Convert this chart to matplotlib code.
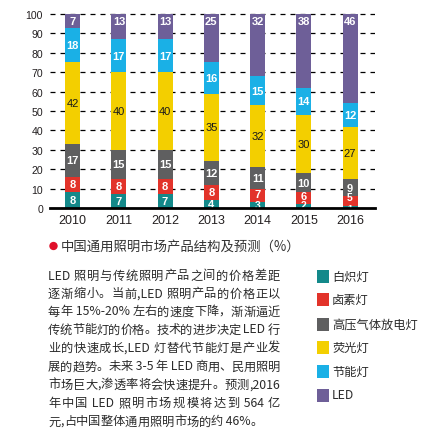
import re
import numpy as np
import matplotlib
matplotlib.use("Agg")
import matplotlib.pyplot as plt
from matplotlib.patches import Rectangle, Circle

# datos del grafico (%)
years = ['2010', '2011', '2012', '2013', '2014', '2015', '2016']
incandescent = [8, 7, 7, 4, 3, 2, 1]
halogen = [8, 8, 8, 8, 7, 6, 5]
hid = [17, 15, 15, 12, 11, 10, 9]
fluorescent = [42, 40, 40, 35, 32, 30, 27]
cfl = [18, 17, 17, 16, 15, 14, 12]
led = [7, 13, 13, 25, 32, 38, 46]

names = ['白炽灯', '卤素灯', '高压气体放电灯', '荧光灯', '节能灯', 'LED']
colors = ['#13898a', '#e2332a', '#5f5f60', '#f3cf00', '#1ab0e6', '#6e5f98']
yticks = [0, 10, 20, 30, 40, 50, 60, 70, 80, 90, 100]

title = '中国通用照明市场产品结构及预测（%）'
para = ['LED 照明与传统照明产品之间的价格差距',
        '逐渐缩小。当前,LED 照明产品的价格正以',
        '每年 15%-20% 左右的速度下降，渐渐逼近',
        '传统节能灯的价格。技术的进步决定 LED 行',
        '业的快速成长,LED 灯替代节能灯是产业发',
        '展的趋势。未来 3-5 年 LED 商用、民用照明',
        '市场巨大,渗透率将会快速提升。预测,2016',
        '年中国 LED 照明市场规模将达到 564 亿',
        '元,占中国整体通用照明市场的约 46%。']

W, H = 440, 435
fig = plt.figure(figsize=(W / 100, H / 100), dpi=100)
fig.patch.set_facecolor('white')

def fx(px):
    return px / W

def fy(py):
    return 1 - py / H

top_val = 100.4
ax = fig.add_axes([fx(50), fy(209), fx(375) - fx(50), (fy(14.2) - fy(209))])
x = np.arange(len(years))
series = [incandescent, halogen, hid, fluorescent, cfl, led]
bottom = np.zeros(len(years))
for i, s in enumerate(series):
    s = np.array(s, dtype=float)
    ax.bar(x, s, 0.325, bottom=bottom, color=colors[i], zorder=2)
    for j in range(len(years)):
        yc = bottom[j] + s[j] / 2
        fs = 8
        if i == 0:
            # los pequeños quedan medio tapados por el eje
            if s[j] <= 1:
                yc, fs = 0.0, 6.5
            else:
                yc = max(yc, 1.3)
                if s[j] < 4:
                    fs = 7.5
        elif i == 1:
            if s[j] < 6:
                yc, fs = bottom[j] + 4.6, 7.5
            else:
                yc = max(yc, bottom[j] + 4.2)
        elif i == 5:
            yc = 96.6
        if i == 3:
            ax.text(x[j], yc, str(int(s[j])), ha='center', va='center', color='#1a1a1a',
                    fontsize=fs, family='Liberation Sans', zorder=3)
        else:
            ax.text(x[j], yc, str(int(s[j])), ha='center', va='center', color='white',
                    fontsize=fs, fontweight='bold', family='Liberation Sans', zorder=3)
    bottom = bottom + s

ax.set_xlim(-0.49, 6.54)
ax.set_ylim(0, top_val)
ax.set_yticks(yticks)
ax.set_yticklabels([str(t) for t in yticks], fontsize=7.6, family='Liberation Sans', color='#231f20')
ax.set_xticks(x)
ax.set_xticklabels(years, fontsize=9, family='Liberation Sans', color='#231f20')
ax.tick_params(length=0, pad=4)
ax.tick_params(axis='y', pad=5)
ax.yaxis.grid(True, color='black', linestyle=(0, (4, 4)), linewidth=0.9)
ax.set_axisbelow(True)
for sp in ['left', 'right', 'top']:
    ax.spines[sp].set_visible(False)
ax.spines['bottom'].set_linewidth(2)
ax.spines['bottom'].set_zorder(4)

cjk = ['Noto Sans CJK SC', 'DejaVu Sans']

# titulo con punto rojo
fig.patches.append(Circle((fx(53.5), fy(247)), 4.2 / W, transform=fig.transFigure,
                          facecolor='#e0102a', edgecolor='none'))
fig.text(fx(61), fy(247), title, ha='left', va='center', fontsize=9.6, family=cjk, color='#333333')

# parrafo justificado
renderer = fig.canvas.get_renderer()
line_y = [276, 294, 312, 330, 348.5, 367, 385, 403.5, 422]
x0, x1 = 48, 280
for k, line in enumerate(para):
    chunks = re.findall(r'[\x00-\x7f]+|.', line)
    objs = [fig.text(0, fy(line_y[k]), c, ha='left', va='center', fontsize=8.8,
                     family=cjk, color='#2b2b2b') for c in chunks]
    widths = [o.get_window_extent(renderer).width for o in objs]
    total = sum(widths)
    gap = 0
    if k < len(para) - 1 and len(objs) > 1:
        gap = (x1 - x0 - total) / (len(objs) - 1)
    xp = x0
    for o, w in zip(objs, widths):
        o.set_x(fx(xp))
        xp += w + gap

# leyenda
leg_y = [277, 300, 325, 348, 372, 396]
for i, nm in enumerate(names):
    fig.patches.append(Rectangle((fx(317), fy(leg_y[i] + 6.5)), 12 / W, 13 / H,
                                 transform=fig.transFigure, facecolor=colors[i], edgecolor='none'))
    fig.text(fx(332), fy(leg_y[i]), nm, ha='left', va='center', fontsize=8.8,
             family=cjk, color='#2b2b2b')

fig.savefig('out.png', dpi=100)
